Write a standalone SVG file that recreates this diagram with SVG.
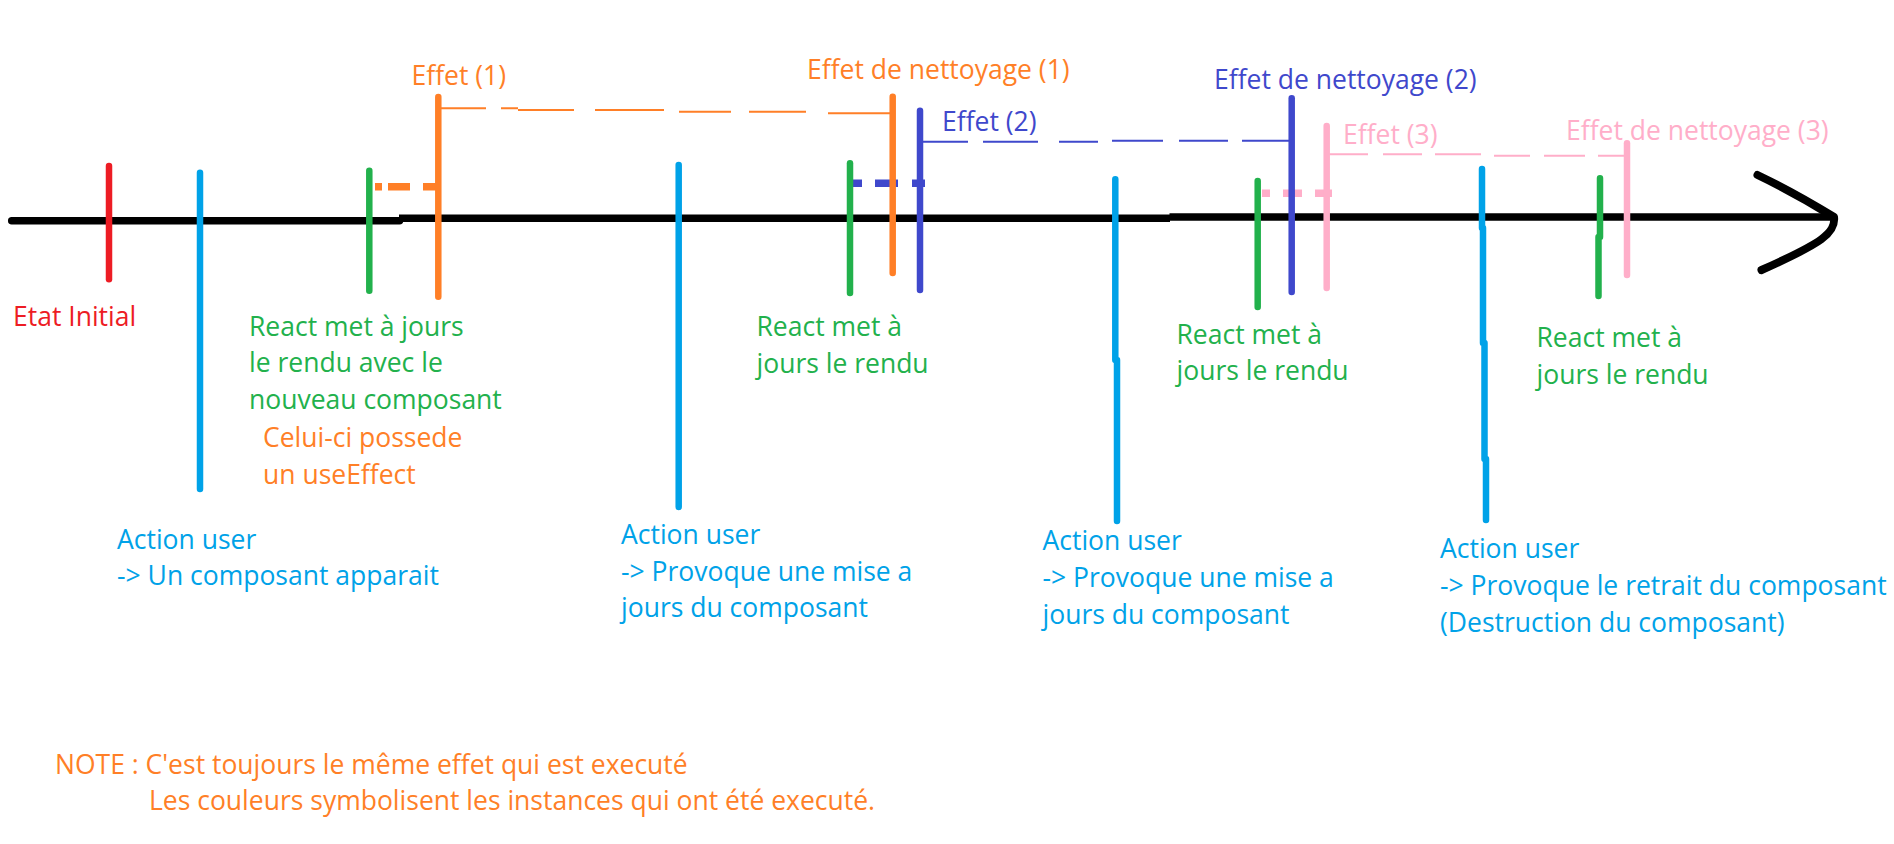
<svg xmlns="http://www.w3.org/2000/svg" width="1894" height="844" viewBox="0 0 1894 844">
<style>
text{font-family:"Open Sans","Noto Sans","DejaVu Sans",sans-serif;font-size:26.5px}
.mk{fill:none;stroke-width:6.5;stroke-linecap:round}
.dot{fill:none;stroke-width:7.5;stroke-linecap:butt}
.dash{fill:none;stroke-width:2;stroke-linecap:butt}
.red{stroke:#ED1C24}.tred{fill:#ED1C24}
.blue{stroke:#00A2E8}.tblue{fill:#00A2E8}
.green{stroke:#22B14C}.tgreen{fill:#22B14C}
.orange{stroke:#FF7F27}.torange{fill:#FF7F27}
.indigo{stroke:#3F48CC}.tindigo{fill:#3F48CC}
.pink{stroke:#FFAEC9}.tpink{fill:#FFAEC9}
</style>
<rect width="1894" height="844" fill="#ffffff"/>
<g id="timeline" fill="none" stroke="#000000">
<path d="M11.7,220.7 L399.5,220.7" stroke-width="7.5" stroke-linecap="round"/>
<path d="M399,218.3 L1170,218.3" stroke-width="7.5"/>
<path d="M1169.5,217 L1834,217" stroke-width="7.5"/>
<path d="M1757.5,175 Q1795,193 1834,217 C1836,233 1822,243 1761.5,270" stroke-width="8" stroke-linecap="round" stroke-linejoin="round"/>
</g>
<g id="connectors">
<path class="dot orange" d="M375,186.7 H382 M388,186.7 H410 M423,186.7 H438"/>
<path class="dash orange" d="M441,108.3 H486 M501,108.3 H518 M518,110 H574 M595,110 H664 M679,111.7 H731 M749,111.7 H806 M828,113.3 H890"/>
<path class="dot indigo" d="M850,183.3 H862 M875,183.3 H898 M912,183.3 H925" stroke-width="8"/>
<path class="dash indigo" d="M923,141.7 H968 M983,141.7 H1038 M1059,141.7 H1098 M1112,140.7 H1163 M1179,140.7 H1228 M1242,140.7 H1289"/>
<path class="dot pink" d="M1262,193.3 H1270 M1283,193.3 H1302 M1315,193.3 H1332" stroke-width="7"/>
<path class="dash pink" d="M1329,154.3 H1368 M1383,154.3 H1422 M1435,154.3 H1481 M1494,155.7 H1530 M1544,155.7 H1585 M1598,155.7 H1624"/>
</g>
<g id="etat-initial">
<path class="mk red" d="M109,166 V279.3"/>
<text class="tred" x="13" y="326">Etat Initial</text>
</g>
<g id="action-user-1">
<path class="mk blue" d="M200,172.7 V489"/>
<text class="tblue" x="117" y="548.7">Action user</text>
<text class="tblue" x="117" y="585">-&gt; Un composant apparait</text>
</g>
<g id="rendu-1">
<path class="mk green" d="M369.3,170.7 V290.7"/>
<text class="tgreen" x="249" y="336">React met à jours</text>
<text class="tgreen" x="249" y="372">le rendu avec le</text>
<text class="tgreen" x="249" y="408.5">nouveau composant</text>
<text class="torange" x="263" y="447">Celui-ci possede</text>
<text class="torange" x="263" y="484">un useEffect</text>
</g>
<g id="effet-1">
<path class="mk orange" d="M438.3,97 V296.7"/>
<text class="torange" x="411.5" y="84.5">Effet (1)</text>
</g>
<g id="action-user-2">
<path class="mk blue" d="M678.7,165 V507"/>
<text class="tblue" x="621" y="544">Action user</text>
<text class="tblue" x="621" y="580.5">-&gt; Provoque une mise a</text>
<text class="tblue" x="621" y="617">jours du composant</text>
</g>
<g id="rendu-2">
<path class="mk green" d="M850,163.3 V293"/>
<text class="tgreen" x="756.5" y="335.5">React met à</text>
<text class="tgreen" x="756.5" y="372.5">jours le rendu</text>
</g>
<g id="nettoyage-1">
<path class="mk orange" d="M892.7,96.7 V273"/>
<text class="torange" x="807" y="79">Effet de nettoyage (1)</text>
</g>
<g id="effet-2">
<path class="mk indigo" d="M920,110.7 V290"/>
<text class="tindigo" x="942" y="130.7">Effet (2)</text>
</g>
<g id="action-user-3">
<path class="mk blue" d="M1115.3,179.3 V360 M1117,360 V521"/>
<text class="tblue" x="1042.5" y="550">Action user</text>
<text class="tblue" x="1042.5" y="587">-&gt; Provoque une mise a</text>
<text class="tblue" x="1042.5" y="623.5">jours du composant</text>
</g>
<g id="rendu-3">
<path class="mk green" d="M1257.7,181 V307"/>
<text class="tgreen" x="1176.5" y="343.5">React met à</text>
<text class="tgreen" x="1176.5" y="380">jours le rendu</text>
</g>
<g id="nettoyage-2">
<path class="mk indigo" d="M1291.7,98.3 V292"/>
<text class="tindigo" x="1214" y="89">Effet de nettoyage (2)</text>
</g>
<g id="effet-3">
<path class="mk pink" d="M1326.7,126 V288"/>
<text class="tpink" x="1343" y="144">Effet (3)</text>
</g>
<g id="action-user-4">
<path class="mk blue" d="M1482,169 V228 M1483,228 V343 M1484.5,343 V459 M1486,459 V520"/>
<text class="tblue" x="1440" y="558">Action user</text>
<text class="tblue" x="1440" y="595">-&gt; Provoque le retrait du composant</text>
<text class="tblue" x="1440" y="632">(Destruction du composant)</text>
</g>
<g id="rendu-4">
<path class="mk green" d="M1600,178.3 V237 M1598.5,237 V296"/>
<text class="tgreen" x="1536.5" y="347">React met à</text>
<text class="tgreen" x="1536.5" y="383.5">jours le rendu</text>
</g>
<g id="nettoyage-3">
<path class="mk pink" d="M1627,143.3 V275"/>
<text class="tpink" x="1566" y="139.5">Effet de nettoyage (3)</text>
</g>
<g id="note">
<text class="torange" x="55" y="774">NOTE : C'est toujours le même effet qui est executé</text>
<text class="torange" x="149" y="810">Les couleurs symbolisent les instances qui ont été executé.</text>
</g>
</svg>
